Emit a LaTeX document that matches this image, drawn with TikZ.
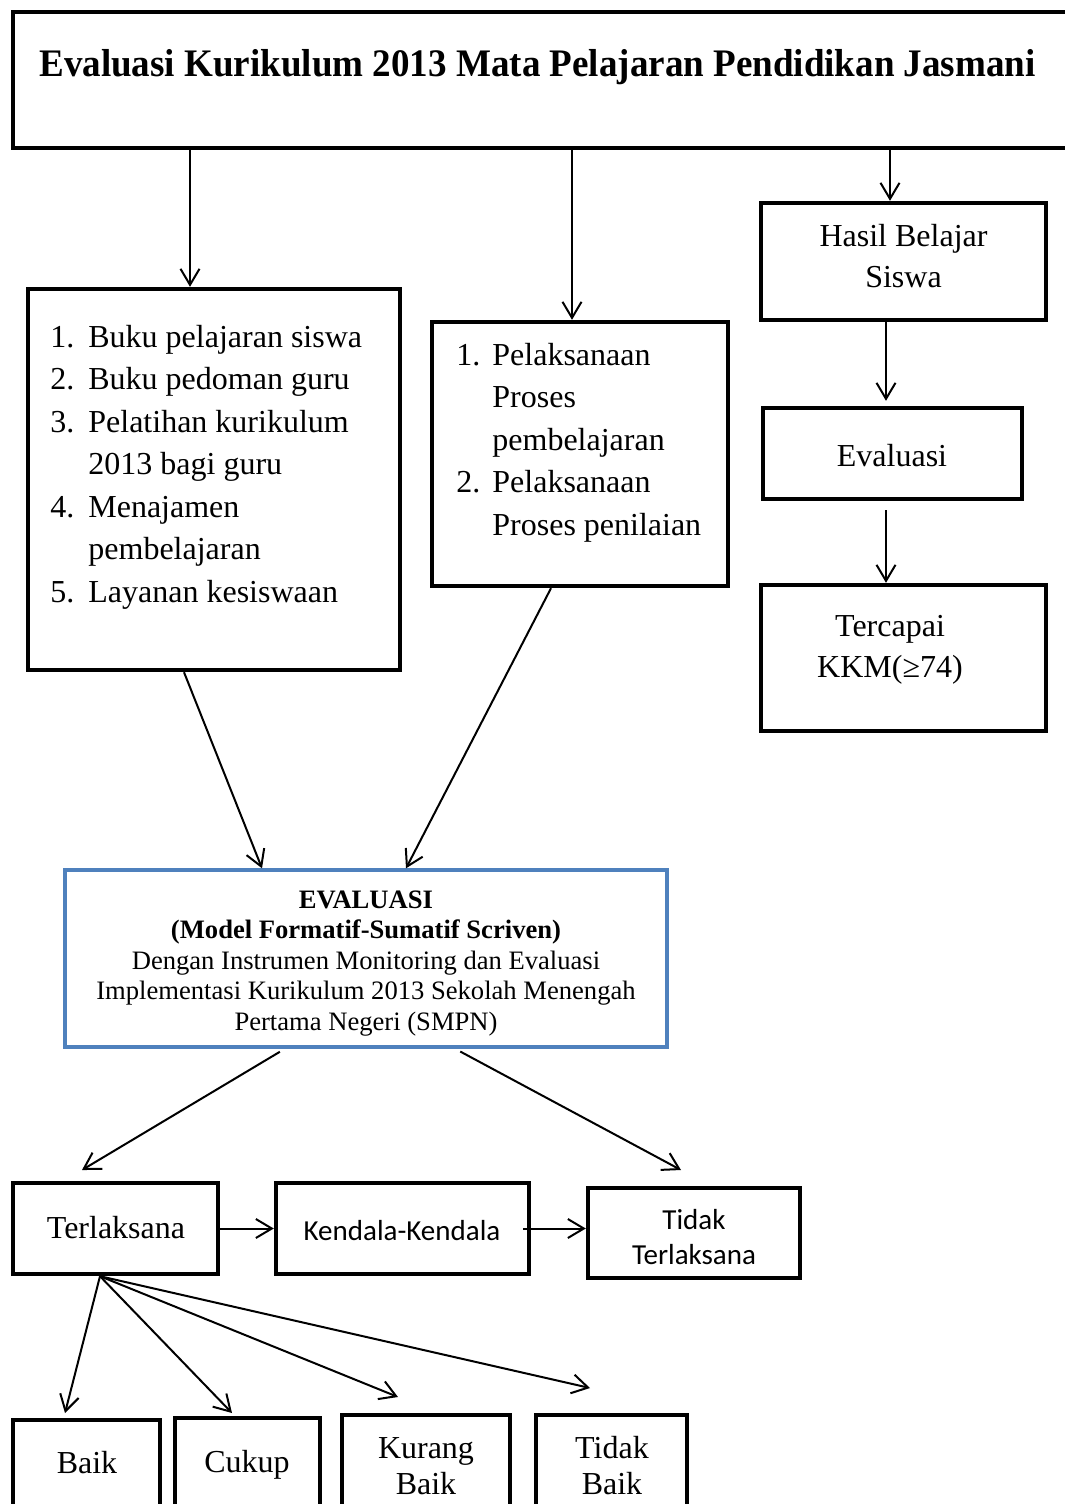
\documentclass[tikz,border=0pt]{standalone}
\usepackage{fontspec}
\setmainfont{Liberation Serif}
\newfontfamily\titlefont[FakeStretch=0.95]{Liberation Serif}
\newfontfamily\calfont{Carlito}
\usetikzlibrary{arrows.meta,calc}
\definecolor{boxblue}{HTML}{4F81BD}
\tikzset{
  box/.style={draw=black, line width=2.2pt, inner sep=0pt},
  bluebox/.style={draw=boxblue, line width=1.7pt, inner sep=0pt},
  arr/.style={line width=1pt, -{Straight Barb[length=8pt,width=9.5pt,line width=1pt]}},
  txt/.style={inner sep=0pt, anchor=base, font=\fontsize{16}{20.5}\selectfont},
  listtxt/.style={inner sep=0pt, anchor=base west, font=\fontsize{16}{21.25}\selectfont},
  caltxt/.style={inner sep=0pt, anchor=base, font=\calfont\fontsize{14.5}{17.5}\selectfont},
}
\begin{document}
\begin{tikzpicture}[x=0.5pt,y=-0.5pt]
\useasboundingbox (0,0) rectangle (1065,1504);
\clip (0,0) rectangle (1065,1504);

% ---- boxes ----
\node[box, minimum width=533.5pt, minimum height=68pt] (title) at (546.5,80) {};
\node[box, minimum width=186pt, minimum height=190.5pt] (lbox) at (214,479.5) {};
\node[box, minimum width=148pt, minimum height=132pt] (mbox) at (580,454) {};
\node[box, minimum width=142.5pt, minimum height=58.5pt] (hbox) at (903.5,261.5) {};
\node[box, minimum width=129.5pt, minimum height=45.5pt] (ebox) at (892.5,453.5) {};
\node[box, minimum width=142.5pt, minimum height=73pt] (tbox) at (903.5,658) {};
\node[bluebox, minimum width=301pt, minimum height=88.5pt] (blue) at (366,958.5) {};
\node[box, minimum width=102.5pt, minimum height=45.5pt] (terl) at (115.5,1228.5) {};
\node[box, minimum width=126.5pt, minimum height=45.5pt] (kend) at (402.5,1228.5) {};
\node[box, minimum width=106pt, minimum height=45pt] (tidakT) at (694,1233) {};
\node[box, minimum width=73.5pt, minimum height=60pt] (baik) at (86.5,1480) {};
\node[box, minimum width=72.5pt, minimum height=61pt] (cukup) at (247.5,1479) {};
\node[box, minimum width=84pt, minimum height=62.5pt] (kurang) at (426,1477.5) {};
\node[box, minimum width=75.5pt, minimum height=62.5pt] (tidakB) at (611.5,1477.5) {};

% ---- texts ----
\node[inner sep=0pt, anchor=base, font=\titlefont\bfseries\fontsize{19.5}{24}\selectfont] (titletext) at (537.5,77)
  {Evaluasi Kurikulum 2013 Mata Pelajaran Pendidikan Jasmani};
\node[listtxt] (ltext) at (50,347) {\begin{tabular}[t]{@{}l@{\hspace{7pt}}l@{}}
1. & Buku pelajaran siswa\\
2. & Buku pedoman guru\\
3. & Pelatihan kurikulum\\
   & 2013 bagi guru\\
4. & Menajamen\\
   & pembelajaran\\
5. & Layanan kesiswaan\end{tabular}};
\node[listtxt] (mtext) at (456,365) {\begin{tabular}[t]{@{}l@{\hspace{6pt}}l@{}}
1. & Pelaksanaan\\
   & Proses\\
   & pembelajaran\\
2. & Pelaksanaan\\
   & Proses penilaian\end{tabular}};
\node[txt] (htext) at (903.5,246) {\begin{tabular}[t]{@{}c@{}}Hasil Belajar\\Siswa\end{tabular}};
\node[txt] (etext) at (892,466) {Evaluasi};
\node[txt] (ttext) at (890,636) {\begin{tabular}[t]{@{}c@{}}Tercapai\\KKM(≥74)\end{tabular}};
\node[inner sep=0pt, anchor=base, font=\fontsize{13.3}{15.3}\selectfont] (bluetext) at (366,908)
  {\begin{tabular}[t]{@{}c@{}}\textbf{EVALUASI}\\
  \textbf{(Model Formatif-Sumatif Scriven)}\\
  Dengan Instrumen Monitoring dan Evaluasi\\
  Implementasi Kurikulum 2013 Sekolah Menengah\\
  Pertama Negeri (SMPN)\end{tabular}};
\node[txt] (terltext) at (116,1238) {Terlaksana};
\node[caltxt] (kendtext) at (402,1240) {Kendala-Kendala};
\node[caltxt] (tidakTtext) at (694,1229) {\begin{tabular}[t]{@{}c@{}}Tidak\\Terlaksana\end{tabular}};
\node[txt] (baiktext) at (87,1473) {Baik};
\node[txt] (cukuptext) at (247,1472) {Cukup};
\node[txt, font=\fontsize{16}{18}\selectfont] (kurangtext) at (426,1458) {\begin{tabular}[t]{@{}c@{}}Kurang\\Baik\end{tabular}};
\node[txt, font=\fontsize{16}{18}\selectfont] (tidakBtext) at (612,1458) {\begin{tabular}[t]{@{}c@{}}Tidak\\Baik\end{tabular}};

% ---- helper coordinates ----
\coordinate (xa) at (190,0);
\coordinate (xb) at (572,0);
\coordinate (xc) at (890,0);
\coordinate (xd) at (886,0);
\coordinate (xe) at (184,0);
\coordinate (xf) at (262,0);
\coordinate (xg) at (551,0);
\coordinate (xh) at (406,0);
\coordinate (xi) at (285,0);
\coordinate (xk) at (455,0);
\coordinate (xo) at (100,0);
\coordinate (tA) at (82,1170);
\coordinate (tB) at (681,1170);
\coordinate (fa) at (65,1413);
\coordinate (fb) at (232,1413);
\coordinate (fc) at (398,1397);
\coordinate (fd) at (590,1388);

% ---- connectors ----
\draw[arr] (title.south -| xa) -- (lbox.north -| xa);
\draw[arr] (title.south -| xb) -- (mbox.north -| xb);
\draw[arr] (title.south -| xc) -- (hbox.north -| xc);
\draw[arr, shorten >=2.5pt] (hbox.south -| xd) -- (ebox.north -| xd);
\draw[arr, shorten <=4.5pt] (ebox.south -| xd) -- (tbox.north -| xd);
\draw[arr] (lbox.south -| xe) -- (blue.north -| xf);
\draw[arr] (mbox.south -| xg) -- (blue.north -| xh);
\draw[arr, shorten <=3pt] (blue.south -| xi) -- (tA);
\draw[arr, shorten <=3pt] (blue.south -| xk) -- (tB);
\draw[arr] (terl.east) -- (kend.west);
\draw[arr] ([xshift=-4pt]kend.east) -- (kend.east -| tidakT.west);
\draw[arr] (terl.south -| xo) -- (fa);
\draw[arr] (terl.south -| xo) -- (fb);
\draw[arr] (terl.south -| xo) -- (fc);
\draw[arr] (terl.south -| xo) -- (fd);
\end{tikzpicture}
\end{document}
